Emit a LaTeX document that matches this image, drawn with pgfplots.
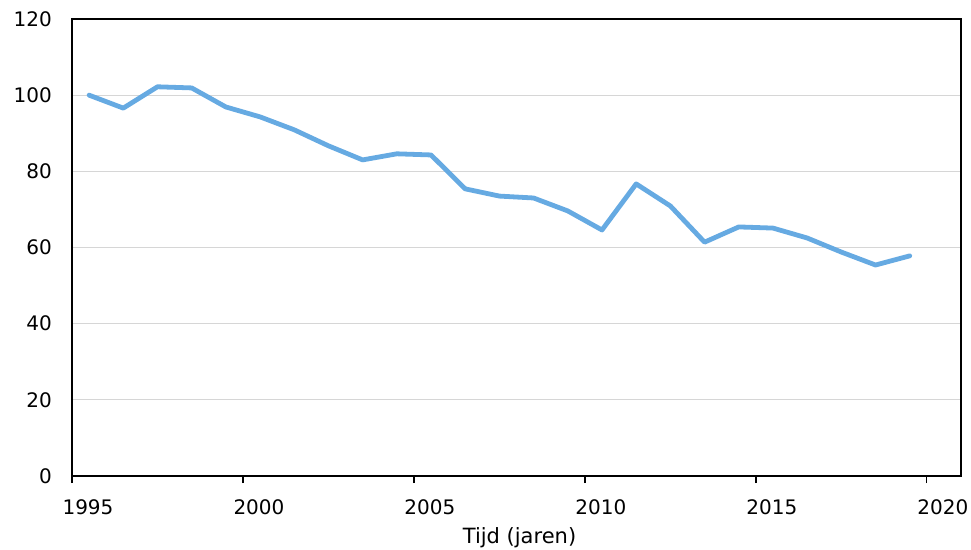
\documentclass[border=0pt]{standalone}
\usepackage{fontspec}
\setmainfont{DejaVu Sans}
\usepackage{pgfplots}
\pgfplotsset{compat=1.18}
\definecolor{lineblue}{RGB}{102,170,226}
\begin{document}
\fontsize{19bp}{23bp}\selectfont
\begin{tikzpicture}
\begin{axis}[
  scale only axis,
  width=889bp, height=457bp,
  xmin=1995, xmax=2021, ymin=0, ymax=120,
  xtick={1995,2000,2005,2010,2015,2020},
  ytick={0,20,40,60,80,100,120},
  /pgf/number format/assume math mode=true,
  /pgf/number format/1000 sep={},
  tick label style={font=\fontsize{20bp}{24bp}\selectfont},
  label style={font=\fontsize{21bp}{25bp}\selectfont},
  xlabel={Tijd (jaren)},
  xlabel style={at={(rel axis cs:0.5,0)}, anchor=base, inner sep=0pt, xshift=3bp, yshift=-67bp},
  ymajorgrids, grid style={draw=black!16, line width=1.2bp},
  axis line style={line width=1.5bp},
  xtick pos=bottom, ytick pos=left,
  tick align=outside,
  major tick length=7bp,
  xtick style={black, line width=1.3bp},
  ytick style={draw opacity=0},
  xticklabel style={anchor=north, inner sep=1bp, xshift=16bp, yshift=-15.5bp},
  yticklabel style={anchor=east, inner sep=1bp, xshift=-12bp},
]
\addplot[lineblue, line width=4.8bp, line join=round, line cap=round] coordinates {
(1995.5,100.0) (1996.5,96.6) (1997.5,102.2) (1998.5,101.9) (1999.5,96.9)
(2000.5,94.3) (2001.5,90.9) (2002.5,86.7) (2003.5,83.0) (2004.5,84.6)
(2005.5,84.3) (2006.5,75.4) (2007.5,73.5) (2008.5,73.0) (2009.5,69.6)
(2010.5,64.6) (2011.5,76.7) (2012.5,70.9) (2013.5,61.4) (2014.5,65.4)
(2015.5,65.1) (2016.5,62.5) (2017.5,58.8) (2018.5,55.4) (2019.5,57.8)
};
\end{axis}
\path ([xshift=-72bp,yshift=-74bp]current axis.south west) rectangle ([xshift=10bp,yshift=19bp]current axis.north east);
\end{tikzpicture}
\end{document}
